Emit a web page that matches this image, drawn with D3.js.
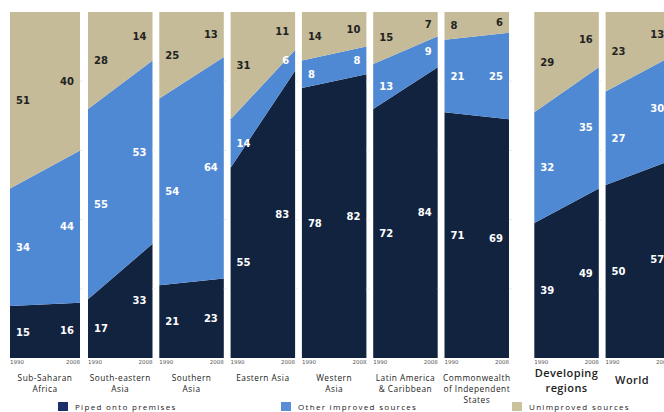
<!DOCTYPE html>
<html><head><meta charset="utf-8">
<script src="https://cdn.jsdelivr.net/npm/d3@7"></script>
<style>body{margin:0;background:#fff;} svg{display:block;}</style>
</head><body>
<svg id="c" width="664" height="412"></svg>
<script>
const years = [1990, 2008];
const regions = ["Sub-Saharan Africa","South-eastern Asia","Southern Asia","Eastern Asia","Western Asia","Latin America & Caribbean","Commonwealth of Independent States","Developing regions","World"];
const titleLines = [["Sub-Saharan","Africa"],["South-eastern","Asia"],["Southern","Asia"],["Eastern Asia"],["Western","Asia"],["Latin America","& Caribbean"],["Commonwealth","of Independent","States"],["Developing","regions"],["World"]];
const piped1990 =      [15,17,21,55,78,72,71,39,50];
const piped2008 =      [16,33,23,83,82,84,69,49,57];
const other1990 =      [34,55,54,14, 8,13,21,32,27];
const other2008 =      [44,53,64, 6, 8, 9,25,35,30];
const unimproved1990 = [51,28,25,31,14,15, 8,29,23];
const unimproved2008 = [40,14,13,11,10, 7, 6,16,13];
const seriesKeys = ["piped","other","unimproved"];
const seriesNames = ["Piped onto premises","Other improved sources","Unimproved sources"];
const gridTicks = [20,40,60,80];

const colors = {piped:"#12233f", other:"#5089d3", unimproved:"#c5bb98"};
const legendColors = {piped:"#1b2f6b", other:"#5a8fd8", unimproved:"#cbc19d"};

const svg = d3.select("#c");
const y = d3.scaleLinear().domain([0,100]).range([358,12]);

function panelX(i){
  if(i===0) return [10,80];
  const left = 88 + (i-1)*71.3 + (i>=7 ? 18.5 : 0);
  return [left, left+64.5];
}

regions.forEach((r,i)=>{
  const [x0,x1] = panelX(i);
  const x = d3.scaleLinear().domain(years).range([x0,x1]);
  const rows = years.map((yr,j)=>({
    year: yr,
    piped: j? piped2008[i]:piped1990[i],
    other: j? other2008[i]:other1990[i],
    unimproved: j? unimproved2008[i]:unimproved1990[i]
  }));
  const stack = d3.stack().keys(seriesKeys)(rows);
  const area = d3.area().x(d=>x(d.data.year)).y0(d=>y(d[0])).y1(d=>y(d[1]));
  const g = svg.append("g");
  g.selectAll("path").data(stack).join("path")
    .attr("d", area).attr("fill", d=>colors[d.key]);
  g.selectAll("line.t").data(gridTicks).join("line")
    .attr("x1", x1).attr("x2", x1+3)
    .attr("y1", d=>y(d)).attr("y2", d=>y(d))
    .attr("stroke","#ebebeb").attr("stroke-width",1);
  stack.forEach(s=>{
    s.forEach((d,j)=>{
      const ym = y((d[0]+d[1])/2);
      g.append("text")
        .attr("x", j===0 ? x0+6 : x1-6)
        .attr("y", ym)
        .attr("dy","0.35em")
        .attr("text-anchor", j===0 ? "start" : "end")
        .attr("font-family","DejaVu Sans, Verdana, sans-serif")
        .attr("font-weight","bold")
        .attr("font-size", 10)
        .attr("fill", s.key==="unimproved" ? "#222" : "#fff")
        .text(d[1]-d[0]);
    });
  });
  g.selectAll("text.yr").data(years).join("text")
    .attr("x", d=>x(d)).attr("y", 364)
    .attr("text-anchor",(d,j)=>j===0?"start":"end")
    .attr("font-family","DejaVu Sans, sans-serif")
    .attr("font-size",5.5).attr("fill","#555")
    .text(d=>d);
  const big = i>=7;
  const lines = titleLines[i];
  g.selectAll("text.ttl").data(lines).join("text")
    .attr("x", i===8 ? 632 : (x0+x1)/2)
    .attr("y",(d,k)=> big ? (i===8 ? 384 : 377+k*15) : 381+k*11)
    .attr("text-anchor","middle")
    .attr("font-family", "Open Sans, sans-serif")
    .attr("font-size", big ? 11 : 8.3)
    .attr("font-weight", big ? 600 : 400)
    .attr("letter-spacing", big ? 0.4 : 0.5)
    .attr("fill","#222")
    .text(d=>d);
});

const legendX = [58, 281, 512];
const lg = svg.append("g");
seriesKeys.forEach((k,i)=>{
  lg.append("rect").attr("x",legendX[i]).attr("y",402).attr("width",10).attr("height",9)
    .attr("fill",legendColors[k]);
  lg.append("text").attr("x",legendX[i]+17).attr("y",407).attr("dy","0.35em")
    .attr("font-family","Open Sans, sans-serif").attr("font-size",8)
    .attr("letter-spacing",1.3).attr("fill","#222").text(seriesNames[i]);
});
</script>
</body></html>
